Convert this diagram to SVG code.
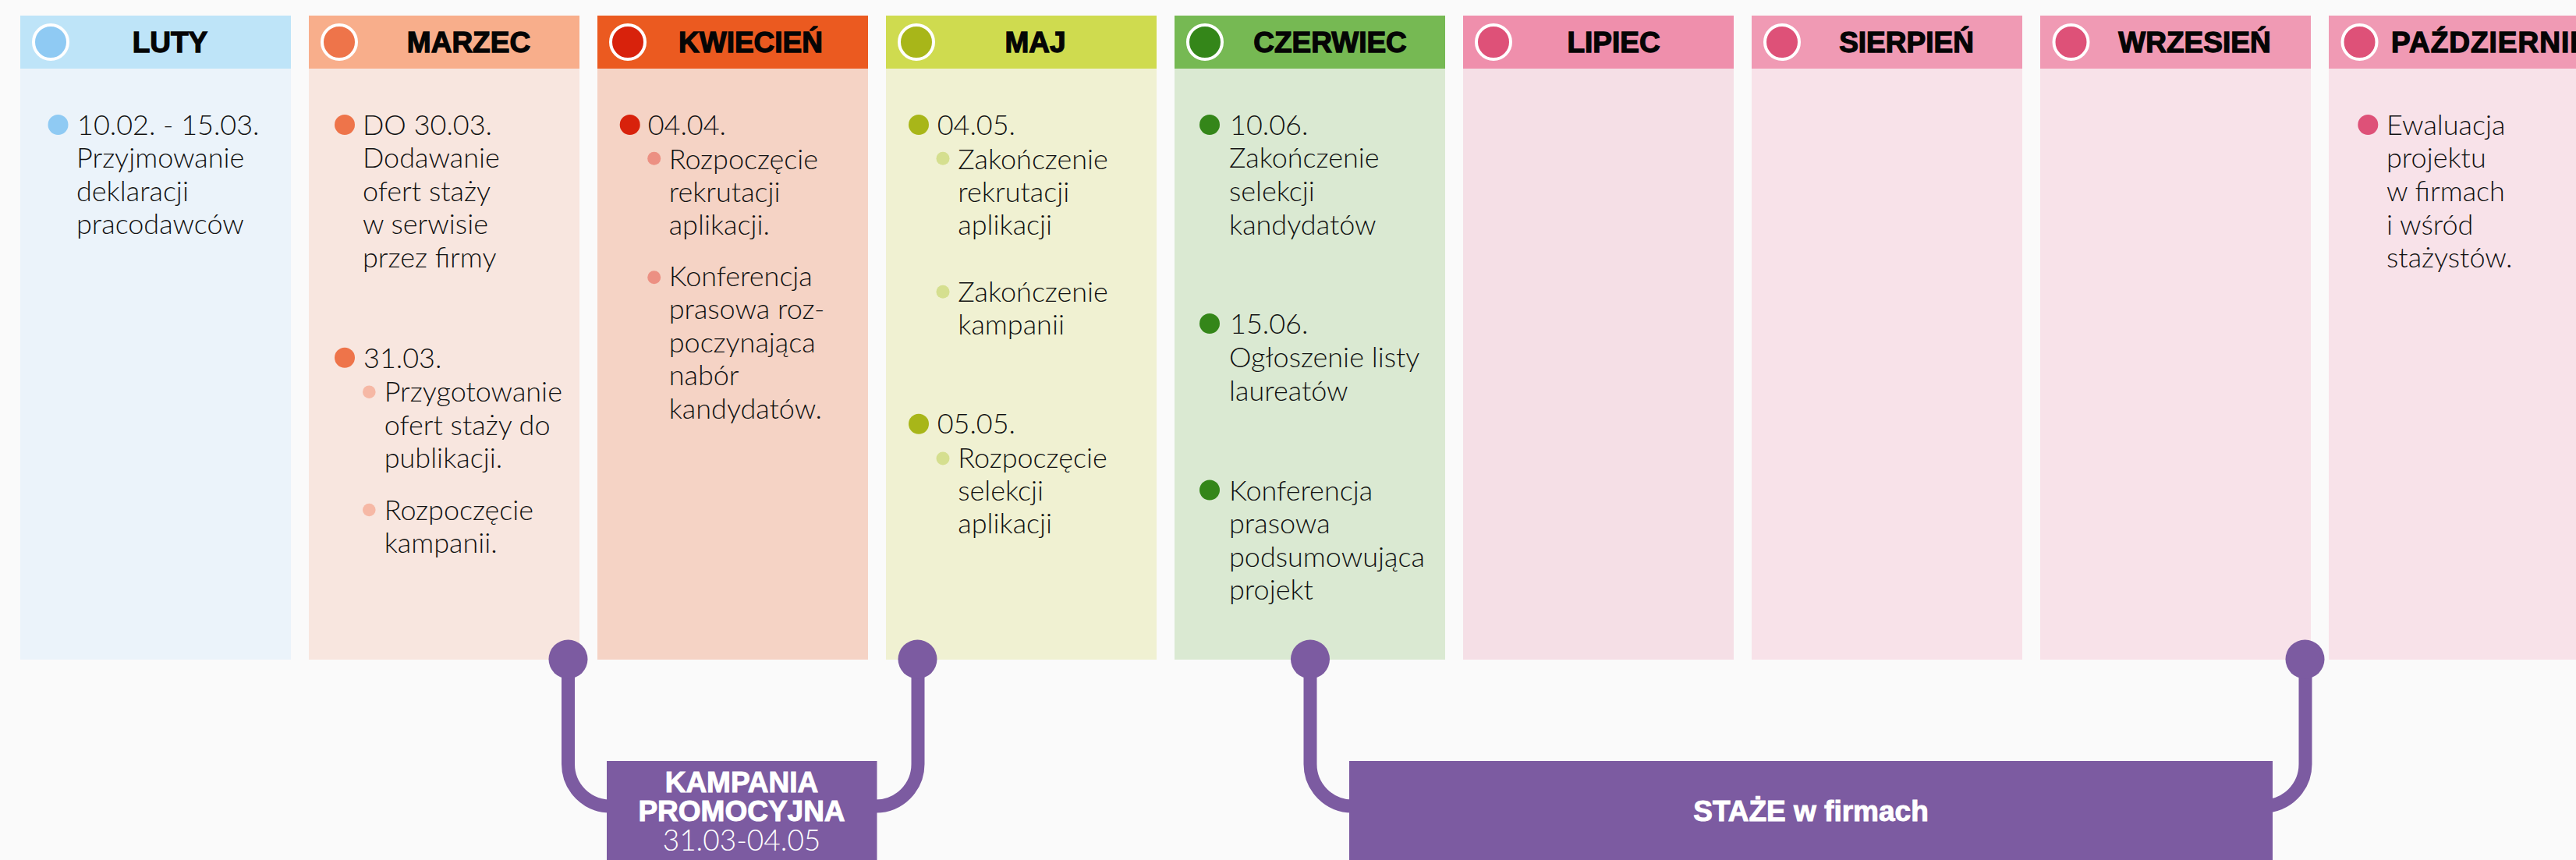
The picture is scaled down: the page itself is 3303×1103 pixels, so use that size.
<svg xmlns="http://www.w3.org/2000/svg" width="3303" height="1103" viewBox="0 0 3303 1103">
<style>
.h{font-family:"Liberation Sans",Arial,sans-serif;font-weight:700;font-size:37px;fill:#050505;stroke:#050505;stroke-width:1.3;text-anchor:middle}
.t{font-family:Lato,"Liberation Sans",sans-serif;font-weight:300;font-size:36px;fill:#111}
.hc{stroke:#fff;stroke-width:4}
.pur{fill:#7c5ba1}
.con{fill:none;stroke:#7c5ba1;stroke-width:17}
.bw{font-family:"Liberation Sans",Arial,sans-serif;font-weight:700;font-size:37px;fill:#fff;stroke:#fff;stroke-width:1;text-anchor:middle}
.lw{font-family:Lato,"Liberation Sans",sans-serif;font-weight:300;font-size:37px;fill:#fff;text-anchor:middle}
</style>
<rect x="0" y="0" width="3303" height="1103" fill="#fafafa"/>

<g id="col-luty">
<rect x="26" y="20" width="347" height="68" fill="#bee4f8"/>
<rect x="26" y="88" width="347" height="758" fill="#ebf3fa"/>
<circle class="hc" cx="65" cy="54" r="22" fill="#8fcaf3"/>
<text class="h" x="218" y="67">LUTY</text>
<circle cx="74.5" cy="160" r="13" fill="#8fcaf3"/>
<text class="t" x="99" y="172.7">10.02. - 15.03.</text>
<text class="t" x="98" y="215">Przyjmowanie</text>
<text class="t" x="98" y="257.5">deklaracji</text>
<text class="t" x="98" y="300">pracodawców</text>
</g>

<g id="col-marzec">
<rect x="396" y="20" width="347" height="68" fill="#f8ae8b"/>
<rect x="396" y="88" width="347" height="758" fill="#f8e6df"/>
<circle class="hc" cx="435" cy="54" r="22" fill="#ee744a"/>
<text class="h" x="601" y="67">MARZEC</text>
<circle cx="442" cy="160" r="13" fill="#ee744a"/>
<text class="t" x="465" y="172.7">DO 30.03.</text>
<text class="t" x="465" y="215">Dodawanie</text>
<text class="t" x="465" y="257.5">ofert staży</text>
<text class="t" x="465" y="300">w serwisie</text>
<text class="t" x="465" y="342.5">przez firmy</text>
<circle cx="442" cy="458.7" r="13" fill="#ee744a"/>
<text class="t" x="466" y="471.7">31.03.</text>
<circle cx="473.3" cy="502.7" r="8.3" fill="#f6b8a5"/>
<text class="t" x="492.7" y="515">Przygotowanie</text>
<text class="t" x="492.7" y="557.5">ofert staży do</text>
<text class="t" x="492.7" y="600">publikacji.</text>
<circle cx="473.3" cy="654" r="8.3" fill="#f6b8a5"/>
<text class="t" x="492.7" y="666.7">Rozpoczęcie</text>
<text class="t" x="492.7" y="708.5">kampanii.</text>
</g>

<g id="col-kwiecien">
<rect x="766" y="20" width="347" height="68" fill="#eb5a20"/>
<rect x="766" y="88" width="347" height="758" fill="#f5d3c5"/>
<circle class="hc" cx="805" cy="54" r="22" fill="#d8220c"/>
<text class="h" x="962.5" y="67">KWIECIEŃ</text>
<circle cx="807.7" cy="160" r="13" fill="#d8220c"/>
<text class="t" x="830.7" y="172.7">04.04.</text>
<circle cx="838.7" cy="203.3" r="8.5" fill="#ec9083"/>
<text class="t" x="857.7" y="216.7">Rozpoczęcie</text>
<text class="t" x="857.7" y="258.5">rekrutacji</text>
<text class="t" x="857.7" y="300.7">aplikacji.</text>
<circle cx="838.7" cy="355.7" r="8.5" fill="#ec9083"/>
<text class="t" x="857.7" y="367.3">Konferencja</text>
<text class="t" x="857.7" y="409.3">prasowa roz-</text>
<text class="t" x="857.7" y="451.7">poczynająca</text>
<text class="t" x="857.7" y="494">nabór</text>
<text class="t" x="857.7" y="537">kandydatów.</text>
</g>

<g id="col-maj">
<rect x="1136" y="20" width="347" height="68" fill="#cfdb4f"/>
<rect x="1136" y="88" width="347" height="758" fill="#f0f1d2"/>
<circle class="hc" cx="1175" cy="54" r="22" fill="#a8b619"/>
<text class="h" x="1327.5" y="67">MAJ</text>
<circle cx="1178" cy="160" r="13" fill="#a8b619"/>
<text class="t" x="1201.7" y="172.7">04.05.</text>
<circle cx="1209" cy="203.3" r="8.5" fill="#d5df8f"/>
<text class="t" x="1228.3" y="216.7">Zakończenie</text>
<text class="t" x="1228.3" y="258.5">rekrutacji</text>
<text class="t" x="1228.3" y="300.7">aplikacji</text>
<circle cx="1209" cy="374.3" r="8.5" fill="#d5df8f"/>
<text class="t" x="1228.3" y="386.7">Zakończenie</text>
<text class="t" x="1228.3" y="428.5">kampanii</text>
<circle cx="1178" cy="543.8" r="13" fill="#a8b619"/>
<text class="t" x="1201.7" y="556">05.05.</text>
<circle cx="1209" cy="588" r="8.5" fill="#d5df8f"/>
<text class="t" x="1228.3" y="600">Rozpoczęcie</text>
<text class="t" x="1228.3" y="642">selekcji</text>
<text class="t" x="1228.3" y="684">aplikacji</text>
</g>

<g id="col-czerwiec">
<rect x="1506" y="20" width="347" height="68" fill="#76b953"/>
<rect x="1506" y="88" width="347" height="758" fill="#dae9d2"/>
<circle class="hc" cx="1545" cy="54" r="22" fill="#348619"/>
<text class="h" x="1705.5" y="67">CZERWIEC</text>
<circle cx="1551" cy="160" r="13" fill="#348619"/>
<text class="t" x="1577" y="172.7">10.06.</text>
<text class="t" x="1576" y="215">Zakończenie</text>
<text class="t" x="1576" y="258.3">selekcji</text>
<text class="t" x="1576" y="300.5">kandydatów</text>
<circle cx="1551" cy="415" r="13" fill="#348619"/>
<text class="t" x="1577" y="427.5">15.06.</text>
<text class="t" x="1576" y="471">Ogłoszenie listy</text>
<text class="t" x="1576" y="513.5">laureatów</text>
<circle cx="1551" cy="628.5" r="13" fill="#348619"/>
<text class="t" x="1576" y="641.5">Konferencja</text>
<text class="t" x="1576" y="684">prasowa</text>
<text class="t" x="1576" y="726.5">podsumowująca</text>
<text class="t" x="1576" y="769">projekt</text>
</g>

<g id="col-lipiec">
<rect x="1876" y="20" width="347" height="68" fill="#ef8fac"/>
<rect x="1876" y="88" width="347" height="758" fill="#f5dfe6"/>
<circle class="hc" cx="1915" cy="54" r="22" fill="#de5178"/>
<text class="h" x="2069" y="67">LIPIEC</text>
</g>

<g id="col-sierpien">
<rect x="2246" y="20" width="347" height="68" fill="#f09ab4"/>
<rect x="2246" y="88" width="347" height="758" fill="#f8e2e9"/>
<circle class="hc" cx="2285" cy="54" r="22" fill="#de5178"/>
<text class="h" x="2444.5" y="67">SIERPIEŃ</text>
</g>

<g id="col-wrzesien">
<rect x="2616" y="20" width="347" height="68" fill="#f09ab4"/>
<rect x="2616" y="88" width="347" height="758" fill="#f8e2e9"/>
<circle class="hc" cx="2655.5" cy="54" r="22" fill="#de5178"/>
<text class="h" x="2814" y="67">WRZESIEŃ</text>
</g>

<g id="col-pazdziernik">
<rect x="2986" y="20" width="347" height="68" fill="#f09ab4"/>
<rect x="2986" y="88" width="347" height="758" fill="#f8e2e9"/>
<circle class="hc" cx="3025.5" cy="54" r="22" fill="#de5178"/>
<text class="h" x="3066" y="67" style="text-anchor:start;letter-spacing:1px">PAŹDZIERNIK</text>
<circle cx="3036.3" cy="160" r="13" fill="#de5178"/>
<text class="t" x="3060" y="172.7">Ewaluacja</text>
<text class="t" x="3060" y="215">projektu</text>
<text class="t" x="3060" y="258.3">w firmach</text>
<text class="t" x="3060" y="300.5">i wśród</text>
<text class="t" x="3060" y="343">stażystów.</text>
</g>

<g id="connectors">
<path class="con" d="M728.5,845 V980 A54,54 0 0 0 782.5,1034 H800"/>
<circle class="pur" cx="728.5" cy="845.5" r="25"/>
<path class="con" d="M1177,845 V980 A54,54 0 0 1 1123,1034 H1100"/>
<circle class="pur" cx="1176.5" cy="845.5" r="25"/>
<path class="con" d="M1680,845 V980 A54,54 0 0 0 1734,1034 H1750"/>
<circle class="pur" cx="1680" cy="845.5" r="25"/>
<path class="con" d="M2956,845 V980 A54,54 0 0 1 2902,1034 H2890"/>
<circle class="pur" cx="2955.5" cy="845.5" r="25"/>
</g>

<g id="kampania">
<rect class="pur" x="778" y="976" width="346.5" height="127"/>
<text class="bw" x="951" y="1015.7">KAMPANIA</text>
<text class="bw" x="951" y="1052.7">PROMOCYJNA</text>
<text class="lw" x="951" y="1090.7">31.03-04.05</text>
</g>

<g id="staze">
<rect class="pur" x="1730" y="976" width="1184" height="127"/>
<text class="bw" x="2322" y="1052.7">STAŻE w firmach</text>
</g>
</svg>
